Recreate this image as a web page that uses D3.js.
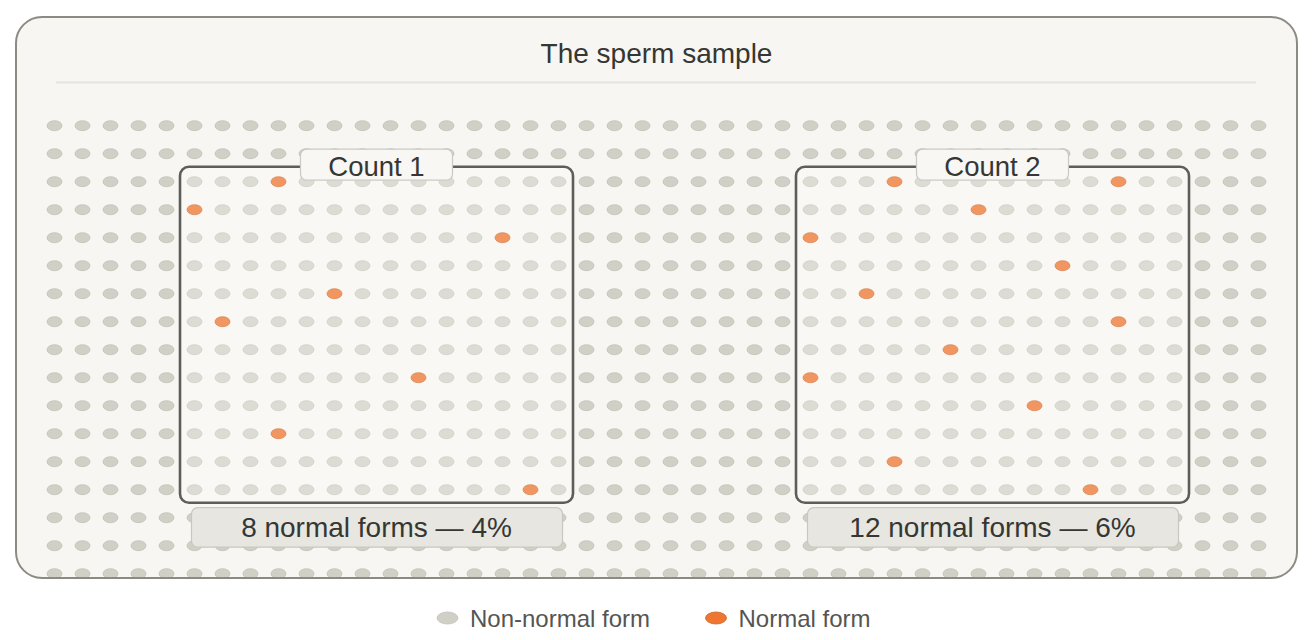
<!DOCTYPE html>
<html>
<head>
<meta charset="utf-8">
<script src="https://cdn.jsdelivr.net/npm/d3@7"></script>
<style>
  html, body { margin: 0; padding: 0; background: #ffffff; }
  svg { display: block; font-family: "Liberation Sans", Arial, Helvetica, sans-serif; }
</style>
</head>
<body>
<svg id="chart" width="1313" height="640"></svg>
<script>
// ---------- data ----------
const title = "The sperm sample";
const gridCols = 44;          // columns of cells in the sample
const gridRows = 17;          // rows of cells in the sample
const counts = ["Count 1", "Count 2"];
const countColStart = [5, 27]; // first grid column of each counted field
const countRowStart = [2, 2];  // first grid row of each counted field
const countCols = 14;
const countRows = 12;
const normalTotals = [8, 12];
const normalPercent = [4, 6];
// normal forms inside each field: [column, row] relative to the field
const normalCount1 = [[3,0],[0,1],[11,2],[5,4],[1,5],[8,7],[3,9],[12,11]];
const normalCount2 = [[3,0],[11,0],[6,1],[0,2],[9,3],[2,4],[11,5],[5,6],[0,7],[8,8],[3,10],[10,11]];
const legendLabels = ["Non-normal form", "Normal form"];

// ---------- drawing ----------
const svg = d3.select("#chart");
const W = 1313;

const colors = {
  panelFill: "#f7f6f2", panelStroke: "#8c8b83",
  dot: "#d1d0c7", dotStroke: "#c2c1b7",
  normal: "#ee7630", normalStroke: "#c9642a",
  text: "#363633", legendText: "#555552"
};

const x = d3.scaleLinear().domain([0, gridCols - 1]).range([54.5, 1258.5]);
const y = d3.scaleLinear().domain([0, gridRows - 1]).range([125.7, 573.7]);

const panel = {x: 16, y: 17, w: 1281, h: 561, r: 26};

const defs = svg.append("defs");
defs.append("clipPath").attr("id", "panelClip")
  .append("rect").attr("x", panel.x).attr("y", panel.y)
  .attr("width", panel.w).attr("height", panel.h).attr("rx", panel.r);

svg.append("rect").attr("x", panel.x).attr("y", panel.y)
  .attr("width", panel.w).attr("height", panel.h).attr("rx", panel.r)
  .attr("fill", colors.panelFill);

svg.append("text").attr("x", W / 2).attr("y", 63)
  .attr("text-anchor", "middle").attr("font-size", 28)
  .attr("fill", colors.text).text(title);

svg.append("line").attr("x1", 56).attr("x2", 1256).attr("y1", 82.5).attr("y2", 82.5)
  .attr("stroke", "#e4e3dc").attr("stroke-width", 2);

// set of normal cells in grid coordinates
const normalSets = [normalCount1, normalCount2];
const normalKey = new Set();
normalSets.forEach((arr, i) => arr.forEach(([c, r]) =>
  normalKey.add((countColStart[i] + c) + "," + (countRowStart[i] + r))));

const cells = [];
for (let r = 0; r < gridRows; r++)
  for (let c = 0; c < gridCols; c++)
    cells.push({c, r, normal: normalKey.has(c + "," + r)});

const dotsG = svg.append("g").attr("clip-path", "url(#panelClip)");
dotsG.selectAll("ellipse").data(cells).join("ellipse")
  .attr("cx", d => x(d.c)).attr("cy", d => y(d.r))
  .attr("rx", 7.5).attr("ry", 5)
  .attr("fill", d => d.normal ? colors.normal : colors.dot)
  .attr("stroke", d => d.normal ? colors.normalStroke : colors.dotStroke)
  .attr("stroke-width", 0.8);

// counted fields
const pad = 14.5;
counts.forEach((name, i) => {
  const x0 = x(countColStart[i]) - pad;
  const x1 = x(countColStart[i] + countCols - 1) + pad;
  const y0 = y(countRowStart[i]) - pad - 0.5;
  const y1 = y(countRowStart[i] + countRows - 1) + pad - 1.5;
  const cx = (x0 + x1) / 2;
  const g = svg.append("g");
  g.append("rect").attr("x", x0).attr("y", y0)
    .attr("width", x1 - x0).attr("height", y1 - y0).attr("rx", 9)
    .attr("fill", "#ffffff").attr("fill-opacity", 0.24)
    .attr("stroke", "#5d5d59").attr("stroke-width", 2.6);
  // top label
  g.append("rect").attr("x", cx - 76).attr("y", y0 - 17.5)
    .attr("width", 152).attr("height", 31).attr("rx", 6)
    .attr("fill", "#f8f7f4").attr("stroke", "#cbcac2").attr("stroke-width", 1.2);
  g.append("text").attr("x", cx).attr("y", y0 + 9.5)
    .attr("text-anchor", "middle").attr("font-size", 27.5)
    .attr("fill", colors.text).text(name);
  // bottom label
  g.append("rect").attr("x", x0 + 11.5).attr("y", y1 + 5)
    .attr("width", x1 - x0 - 22).attr("height", 39.5).attr("rx", 6)
    .attr("fill", "#e7e6e0").attr("stroke", "#c9c8bf").attr("stroke-width", 1.2);
  g.append("text").attr("x", cx).attr("y", y1 + 34.5)
    .attr("text-anchor", "middle").attr("font-size", 28)
    .attr("fill", colors.text)
    .text(normalTotals[i] + " normal forms \u2014 " + normalPercent[i] + "%");
});

// panel border on top
svg.append("rect").attr("x", panel.x).attr("y", panel.y)
  .attr("width", panel.w).attr("height", panel.h).attr("rx", panel.r)
  .attr("fill", "none").attr("stroke", colors.panelStroke).attr("stroke-width", 2);

// legend
const legend = svg.append("g");
const legendX = [447.5, 716];
const legendFill = [colors.dot, colors.normal];
const legendStroke = [colors.dotStroke, colors.normalStroke];
legendLabels.forEach((lab, i) => {
  legend.append("ellipse").attr("cx", legendX[i]).attr("cy", 618)
    .attr("rx", 10.5).attr("ry", 6)
    .attr("fill", legendFill[i]).attr("stroke", legendStroke[i]).attr("stroke-width", 0.8);
  legend.append("text").attr("x", legendX[i] + 22.5).attr("y", 626.5)
    .attr("font-size", 24).attr("fill", colors.legendText).text(lab);
});
</script>
</body>
</html>
